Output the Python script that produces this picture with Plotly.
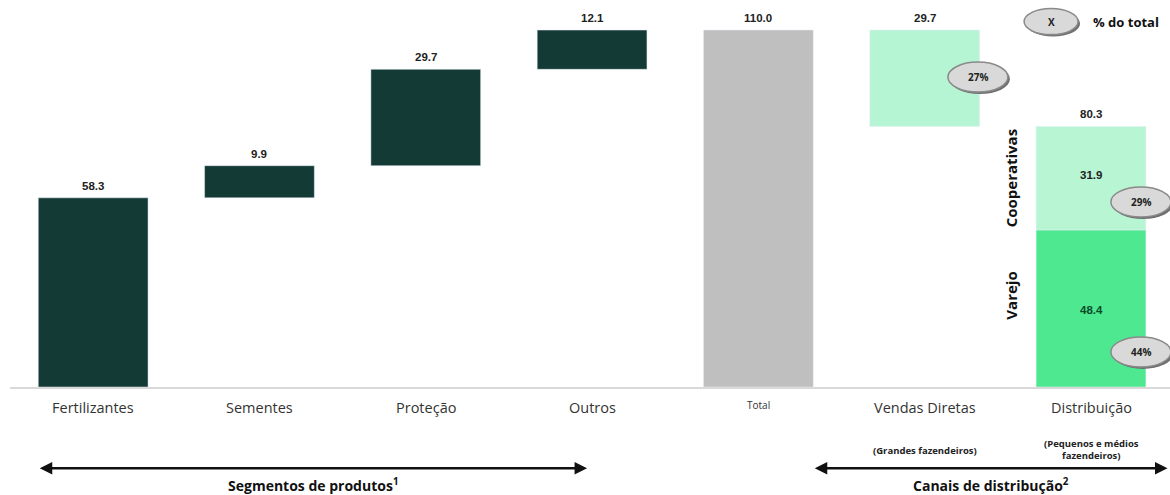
import plotly.graph_objects as go

categories = ["Fertilizantes", "Sementes", "Proteção", "Outros", "Total", "Vendas Diretas", "Distribuição"]
segment_values = [58.3, 9.9, 29.7, 12.1]
total_value = 110.0
direct_value = 29.7
varejo_value = 48.4
coop_value = 31.9
distrib_value = 80.3
share_labels = ["27%", "29%", "44%"]

DARK = "#133a35"
GREY = "#bfbfbf"
MINT = "#b5f5d4"
COOP = "#b8f5d3"
VAREJO = "#4de890"
NUM_FONT = dict(family="Liberation Sans Narrow, Arial Narrow, Arial", size=11.5, color="#222222")
TXT = "Open Sans, Arial"

# waterfall bases
bases = []
run = 0.0
for v in segment_values:
    bases.append(run)
    run += v

fig = go.Figure()
fig.add_trace(go.Bar(x=categories[:4], y=segment_values, base=bases, marker_color=DARK, width=0.66))
fig.add_trace(go.Bar(x=[categories[4]], y=[total_value], base=[0], marker_color=GREY, width=0.66))
fig.add_trace(go.Bar(x=[categories[5]], y=[direct_value], base=[total_value - direct_value], marker_color=MINT, width=0.66))
fig.add_trace(go.Bar(x=[categories[6]], y=[varejo_value], base=[0], marker_color=VAREJO, width=0.66))
fig.add_trace(go.Bar(x=[categories[6]], y=[coop_value], base=[varejo_value], marker_color=COOP, width=0.66))

ann = []
# values above bars
tops = [b + v for b, v in zip(bases, segment_values)] + [total_value, total_value, distrib_value]
labels = segment_values + [total_value, direct_value, distrib_value]
for cat, top, lab in zip(categories, tops, labels):
    ann.append(dict(x=cat, y=top, text=f"<b>{lab:.1f}</b>", showarrow=False, yanchor="bottom", yshift=4, font=NUM_FONT))
# values inside distribution stack
ann.append(dict(x=categories[6], y=varejo_value + coop_value / 2, text=f"<b>{coop_value:.1f}</b>", showarrow=False, yshift=3, font=NUM_FONT))
ann.append(dict(x=categories[6], y=varejo_value / 2, text=f"<b>{varejo_value:.1f}</b>", showarrow=False, yshift=-2, font=dict(NUM_FONT, color="#0b4a2a")))

# category labels
for cat in categories:
    ann.append(dict(x=cat, y=0, yref="y", text=cat, showarrow=False, yanchor="top", yshift=-9,
                    font=dict(family=TXT, size=10 if cat == "Total" else 14.5, color="#333333")))

# rotated stack labels
ann.append(dict(x=5.52, y=varejo_value + coop_value / 2, xref="x", text="<b>Cooperativas</b>", textangle=-90, showarrow=False,
                font=dict(family=TXT, size=15, color="#111111")))
ann.append(dict(x=5.52, y=varejo_value / 2 + 4, xref="x", text="<b>Varejo</b>", textangle=-90, showarrow=False,
                font=dict(family=TXT, size=15, color="#111111")))

# share ellipses
ellipses = [(5.32, 95.5, share_labels[0]), (6.3, 57.0, share_labels[1]), (6.3, 10.8, share_labels[2]), (5.76, 112.6, "X")]
shapes = []
for ex, ey, txt in ellipses:
    w, h = (60, 30) if txt != "X" else (54, 26)
    shapes.append(dict(type="circle", xref="x", yref="y", xsizemode="pixel", ysizemode="pixel",
                       xanchor=ex, yanchor=ey, x0=-w / 2 + 2, x1=w / 2 + 2, y0=-h / 2 - 2, y1=h / 2 - 2,
                       fillcolor="#6f6f6f", line=dict(width=0)))
    shapes.append(dict(type="circle", xref="x", yref="y", xsizemode="pixel", ysizemode="pixel",
                       xanchor=ex, yanchor=ey, x0=-w / 2, x1=w / 2, y0=-h / 2, y1=h / 2,
                       fillcolor="#d9d9d9", line=dict(color="#8a8a8a", width=1.5)))
    ann.append(dict(x=ex, y=ey, xref="x", text=f"<b>{txt}</b>", showarrow=False,
                    font=dict(family=TXT, size=10, color="#222222")))
ann.append(dict(x=6.0, y=112.6, xref="x", text="<b>% do total</b>", showarrow=False, xanchor="left",
                font=dict(family=TXT, size=13, color="#111111")))

# bottom arrows and group labels
for x0, x1 in [(-0.33, 2.97), (4.33, 6.46)]:
    ann.append(dict(x=x1, ax=x0, xref="x", axref="x", y=-0.21, ay=0, yref="paper", ayref="pixel", text="",
                    showarrow=True, arrowhead=2, arrowside="end+start", arrowsize=1, arrowwidth=2.5, arrowcolor="#111111"))
ann.append(dict(x=1.32, y=-0.252, xref="x", yref="paper", text="<b>Segmentos de produtos<sup>1</sup></b>", showarrow=False,
                yanchor="middle", font=dict(family=TXT, size=14, color="#111111")))
ann.append(dict(x=5.4, y=-0.252, xref="x", yref="paper", text="<b>Canais de distribução<sup>2</sup></b>", showarrow=False,
                yanchor="middle", font=dict(family=TXT, size=14, color="#111111")))
ann.append(dict(x=categories[5], y=-0.186, yref="paper", text="<b>(Grandes fazendeiros)</b>", showarrow=False,
                font=dict(family=TXT, size=9.5, color="#222222")))
ann.append(dict(x=categories[6], y=-0.2, yref="paper", text="<b>(Pequenos e médios<br>fazendeiros)</b>", showarrow=False,
                font=dict(family=TXT, size=9.5, color="#222222")))

fig.update_layout(
    width=1170,
    height=495,
    barmode="overlay",
    showlegend=False,
    plot_bgcolor="white",
    paper_bgcolor="white",
    margin=dict(l=10, r=0, t=0, b=108),
    xaxis=dict(type="category", range=[-0.5, 6.475], showticklabels=False, showgrid=False, zeroline=False,
               showline=True, linecolor="#d9d9d9", linewidth=1.5),
    yaxis=dict(range=[0, 119.26], visible=False),
    annotations=ann,
    shapes=shapes,
)

fig.write_html("out.html", config={"displayModeBar": False}, post_script="document.body.style.margin='0';")
